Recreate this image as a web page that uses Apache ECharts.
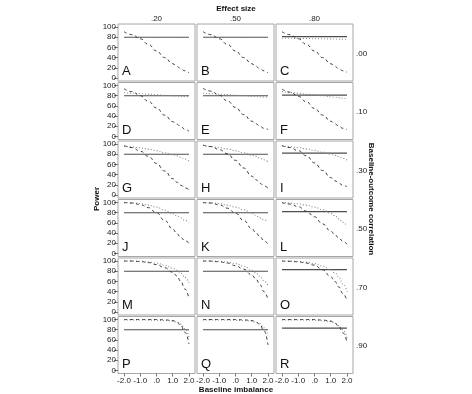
<!DOCTYPE html>
<html><head><meta charset="utf-8">
<script src="https://cdn.jsdelivr.net/npm/echarts@6/dist/echarts.min.js"></script>
<style>html,body{margin:0;padding:0;background:#fff}#c{width:472px;height:394px}</style>
</head><body><div id="c"></div><script>
// ---- data ----
const xs = [-2, -1.5, -1, -0.5, 0, 0.5, 1, 1.25, 1.5, 1.75, 2];
const effectSizes = ['.20', '.50', '.80'];
const correlations = ['.00', '.10', '.30', '.50', '.70', '.90'];
const panelLetters = ['A','B','C','D','E','F','G','H','I','J','K','L','M','N','O','P','Q','R'];
const xTickValues = [-2, -1, 0, 1, 2];
const xTickLabels = ['-2.0', '-1.0', '.0', '1.0', '2.0'];
const yTickValues = [0, 20, 40, 60, 80, 100];
const yTickLabels = ['0', '20', '40', '60', '80', '100'];
const solidLevels = [80, 80, 81, 80, 80, 81, 80, 80, 82, 80, 80, 82, 80, 80, 83, 80, 80, 83];

const dashA = [91, 85, 77, 66, 53, 40, 28, 23, 18, 14, 10];
const dotA  = [79.5, 79.5, 79.5, 79.5, 79.5, 79.5, 79.5, 79.5, 79.5, 79.5, 79.5];
const dashB = [91, 85, 77, 66, 53, 40, 28, 23, 18, 14, 10];
const dotB  = [79.5, 79.5, 79.5, 79.5, 79.5, 79.5, 79.5, 79.5, 79.5, 79.5, 79.5];
const dashC = [91, 85, 77, 66, 53, 40, 28, 23, 18, 14, 11];
const dotC  = [78, 78, 77.5, 77.5, 77, 77, 76.5, 76.5, 76, 76, 76];

const dashD = [94, 88, 80, 69, 56, 42, 29, 24, 19, 14, 10];
const dotD  = [86, 85, 84, 83, 82, 81, 80, 79.5, 79, 78.5, 78];
const dashE = [94.5, 89, 81, 70, 57, 43, 30, 25, 20, 16, 13.5];
const dotE  = [85, 84, 83, 82, 81, 80, 79, 78.5, 78, 77.5, 77];
const dashF = [93, 87, 79, 68, 55, 42, 30, 25, 20, 16, 13.5];
const dotF  = [88, 86.5, 85, 83, 81.5, 80, 78, 77, 76, 75, 74];

const dashG = [97, 93, 86, 76, 62, 47, 32, 25, 19, 14, 10];
const dotG  = [96, 94.5, 92.5, 90, 87, 83, 79, 77, 74, 70.5, 66];
const dashH = [98, 95, 89, 81, 68, 53, 37, 30, 23, 18, 13];
const dotH  = [97, 95, 93, 90.5, 87, 83, 78, 76, 72.5, 69, 65];
const dashI = [97, 93, 87, 77, 63, 48, 34, 28, 23, 19, 16];
const dotI  = [96.5, 95, 93, 90.5, 87.5, 84, 80, 78, 75.5, 72, 68.5];

const dashJ = [100, 99, 96, 90, 80, 65, 48, 39, 31, 25, 20];
const dotJ  = [100, 99.5, 98, 95, 91, 85, 78, 74, 70, 65, 60];
const dashK = [100, 99, 95.5, 89, 79, 65, 49, 41, 33, 25, 18];
const dotK  = [100, 99.5, 98, 95, 91, 86, 79, 75, 70, 66, 62];
const dashL = [100, 97, 92, 83, 72, 58, 44, 37, 30, 24, 18];
const dotL  = [100, 99, 97.5, 95, 91, 86, 79, 74, 68, 61, 54];

const dashM = [100, 100, 99, 97, 93, 87, 78, 71, 60, 45, 26];
const dotM  = [100, 100, 99.5, 98, 96, 92, 86, 82, 76, 68, 57];
const dashN = [100, 100, 98.5, 96, 91, 84, 73, 65, 54, 40, 24];
const dotN  = [100, 100, 99.5, 98, 95, 90, 82, 77, 70, 61, 51];
const dashO = [100, 99.5, 98.5, 96, 92, 83, 69, 60, 49, 36, 22];
const dotO  = [100, 100, 99, 97.5, 95, 90, 83, 77, 68, 55, 40];

const dashP = [100, 100, 100, 100, 100, 99.5, 98, 95, 88, 75, 52];
const dotP  = [99, 99, 99, 99, 98.5, 98, 97, 95, 91, 82, 65];
const dashQ = [100, 100, 100, 100, 100, 99.5, 98, 95.5, 90, 78, 50];
const dotQ  = [99, 99, 99, 99, 98.5, 98, 97, 95, 92, 84, 68];
const dashR = [100, 100, 100, 100, 100, 99, 97, 93, 86, 74, 55];
const dotR  = [99, 99, 99, 99, 98.5, 97.5, 96, 93, 88, 80, 64];

const dashedSeries = [dashA, dashB, dashC, dashD, dashE, dashF, dashG, dashH, dashI,
  dashJ, dashK, dashL, dashM, dashN, dashO, dashP, dashQ, dashR];
const dottedSeries = [dotA, dotB, dotC, dotD, dotE, dotF, dotG, dotH, dotI,
  dotJ, dotK, dotL, dotM, dotN, dotO, dotP, dotQ, dotR];

// ---- layout ----
const FONT = 'Liberation Sans, Arial, sans-serif';
const colLeft = [118, 197, 276];
const panelW = 77;
const rowTop0 = 24, rowStep = 58.5, panelH = 57;

const grids = [], xAxes = [], yAxes = [], series = [], graphics = [];
const pair = (arr) => xs.map((x, i) => [x, arr[i]]);

for (let r = 0; r < 6; r++) {
  for (let c = 0; c < 3; c++) {
    const i = r * 3 + c;
    const left = colLeft[c], top = rowTop0 + r * rowStep;
    grids.push({ left: left, top: top, width: panelW, height: panelH, show: true,
      borderColor: '#a6a6a6', borderWidth: 1, backgroundColor: '#fff' });
    const bottom = r === 5, first = c === 0;
    xAxes.push({ gridIndex: i, type: 'value', min: -2.37, max: 2.37, position: 'bottom',
      axisLine: { show: false, onZero: false }, splitLine: { show: false },
      axisTick: { show: bottom, customValues: xTickValues, length: 3, lineStyle: { color: '#777' } },
      axisLabel: { show: bottom, customValues: xTickValues, margin: 3, fontSize: 8, color: '#222', fontFamily: FONT,
        formatter: v => xTickLabels[xTickValues.indexOf(Math.round(v))] } });
    yAxes.push({ gridIndex: i, type: 'value', min: -6, max: 106, position: 'left',
      axisLine: { show: false, onZero: false }, splitLine: { show: false },
      axisTick: { show: first, customValues: yTickValues, length: 4, lineStyle: { color: '#777' } },
      axisLabel: { show: first, customValues: yTickValues, margin: 2, fontSize: 8, color: '#222', fontFamily: FONT,
        formatter: v => yTickLabels[yTickValues.indexOf(Math.round(v))] } });
    series.push({ type: 'line', xAxisIndex: i, yAxisIndex: i, symbol: 'none', silent: true,
      data: [[xs[0], solidLevels[i]], [xs[xs.length - 1], solidLevels[i]]],
      lineStyle: { color: '#4d4d4d', width: 1.2, type: 'solid' } });
    series.push({ type: 'line', xAxisIndex: i, yAxisIndex: i, symbol: 'none', silent: true,
      smooth: true, smoothMonotone: 'x', data: pair(dottedSeries[i]),
      lineStyle: { color: '#8a8a8a', width: 1.1, type: [1, 2] } });
    series.push({ type: 'line', xAxisIndex: i, yAxisIndex: i, symbol: 'none', silent: true,
      smooth: true, smoothMonotone: 'x', data: pair(dashedSeries[i]),
      lineStyle: { color: '#3a3a3a', width: 1, type: [3, 3] } });
    graphics.push({ type: 'text', x: left + 4, y: top + panelH - 9.5, silent: true,
      style: { text: panelLetters[i], fontSize: 13, fontFamily: FONT, fill: '#111',
        textAlign: 'left', textVerticalAlign: 'middle' } });
  }
}

// column headers & row labels
effectSizes.forEach((t, c) => graphics.push({ type: 'text', x: colLeft[c] + panelW / 2, y: 19,
  style: { text: t, fontSize: 8, fontFamily: FONT, fill: '#222', textAlign: 'center', textVerticalAlign: 'middle' } }));
correlations.forEach((t, r) => graphics.push({ type: 'text', x: 356, y: rowTop0 + r * rowStep + panelH / 2 + 1,
  style: { text: t, fontSize: 8, fontFamily: FONT, fill: '#222', textAlign: 'left', textVerticalAlign: 'middle' } }));
graphics.push({ type: 'text', x: 236, y: 9,
  style: { text: 'Effect size', fontSize: 8, fontWeight: 'bold', fontFamily: FONT, fill: '#111', textAlign: 'center', textVerticalAlign: 'middle' } });
graphics.push({ type: 'text', x: 236, y: 390,
  style: { text: 'Baseline imbalance', fontSize: 8, fontWeight: 'bold', fontFamily: FONT, fill: '#111', textAlign: 'center', textVerticalAlign: 'middle' } });
graphics.push({ type: 'text', x: 97, y: 199, rotation: Math.PI / 2,
  style: { text: 'Power', fontSize: 8, fontWeight: 'bold', fontFamily: FONT, fill: '#111', textAlign: 'center', textVerticalAlign: 'middle' } });
graphics.push({ type: 'text', x: 371, y: 199, rotation: -Math.PI / 2,
  style: { text: 'Baseline-outcome correlation', fontSize: 8, fontWeight: 'bold', fontFamily: FONT, fill: '#111', textAlign: 'center', textVerticalAlign: 'middle' } });

const chart = echarts.init(document.getElementById('c'), null, { renderer: 'canvas' });
chart.setOption({ animation: false, backgroundColor: '#fff', grid: grids, xAxis: xAxes, yAxis: yAxes, series: series, graphic: graphics });
</script></body></html>
